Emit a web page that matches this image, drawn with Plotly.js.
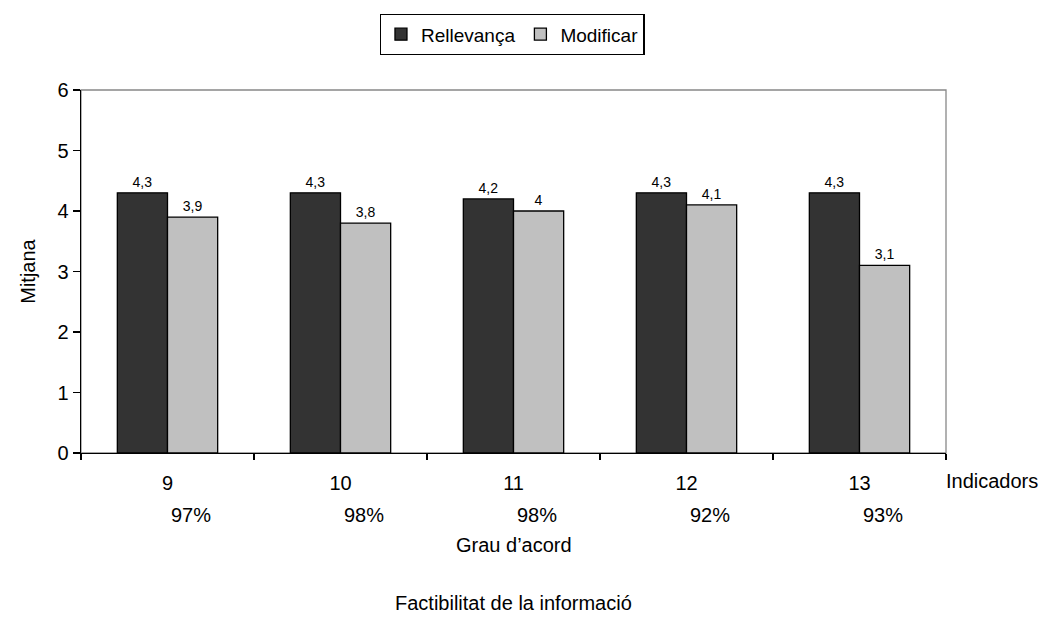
<!DOCTYPE html>
<html>
<head>
<meta charset="utf-8">
<script src="https://cdn.plot.ly/plotly-3.0.1.min.js"></script>
<style>html,body{margin:0;padding:0;background:#fff;}#chart{width:1041px;height:620px;}</style>
</head>
<body>
<div id="chart"></div>
<script>
var categories = ["9", "10", "11", "12", "13"];
var agreement = ["97%", "98%", "98%", "92%", "93%"];
var rellevanca = [4.3, 4.3, 4.2, 4.3, 4.3];
var modificar = [3.9, 3.8, 4, 4.1, 3.1];

var font = "Liberation Sans, Arial, sans-serif";
var fs = 20;

var traces = [
  {
    type: "bar", name: "Rellevança", x: categories, y: rellevanca,
    marker: {color: "#333333", line: {color: "#000000", width: 1.3}},
    texttemplate: "%{y}", textposition: "outside", cliponaxis: false,
    textfont: {family: font, size: 14, color: "#000"}
  },
  {
    type: "bar", name: "Modificar", x: categories, y: modificar,
    marker: {color: "#c0c0c0", line: {color: "#000000", width: 1.3}},
    texttemplate: "%{y}", textposition: "outside", cliponaxis: false,
    textfont: {family: font, size: 14, color: "#000"}
  }
];

var annotations = agreement.map(function (t, i) {
  return {
    text: t, x: i, xref: "x", y: 0, yref: "paper",
    xshift: 23, yshift: -75, showarrow: false,
    font: {family: font, size: fs, color: "#000"}
  };
});
annotations.push({text: "Grau d’acord", x: 0.5, xref: "paper", y: 0, yref: "paper",
  yshift: -105, showarrow: false, font: {family: font, size: fs, color: "#000"}});
annotations.push({text: "Factibilitat de la informació", x: 0.5, xref: "paper", y: 0, yref: "paper",
  yshift: -163, showarrow: false, font: {family: font, size: fs, color: "#000"}});
annotations.push({text: "Indicadors", x: 1, xref: "paper", xanchor: "left", xshift: -2, y: 0, yref: "paper",
  yshift: -41, showarrow: false, font: {family: font, size: fs, color: "#000"}});

var layout = {
  width: 1041, height: 620,
  margin: {l: 81, r: 95, t: 90, b: 167},
  paper_bgcolor: "#fff", plot_bgcolor: "#fff",
  separators: ",.",
  font: {family: font, size: fs, color: "#000"},
  barmode: "group", bargap: 0.42, bargroupgap: 0,
  showlegend: true,
  legend: {
    orientation: "h", x: 0.492, xanchor: "center", xref: "container",
    y: 1 - 14/620, yref: "container", yanchor: "top",
    bordercolor: "#000", borderwidth: 1.3, bgcolor: "#fff",
    font: {family: font, size: 19, color: "#000"},
    itemwidth: 30, tracegroupgap: 0, traceorder: "normal"
  },
  xaxis: {
    type: "category", range: [-0.5, 4.5], showgrid: false, zeroline: false,
    showline: true, linecolor: "#000", linewidth: 1.3,
    ticks: "outside", tickson: "boundaries", ticklen: 6, tickcolor: "#000", tickwidth: 1.3,
    ticklabelstandoff: 12,
    tickfont: {family: font, size: fs, color: "#000"}, fixedrange: true
  },
  yaxis: {
    range: [0, 6], dtick: 1, showgrid: false, zeroline: false,
    showline: true, linecolor: "#000", linewidth: 1.3,
    ticks: "outside", ticklen: 7, tickcolor: "#000", tickwidth: 1.3,
    tickfont: {family: font, size: fs, color: "#000"},
    title: {text: "Mitjana", font: {family: font, size: fs, color: "#000"}, standoff: 16}
  },
  shapes: [{
    type: "rect", xref: "paper", yref: "paper", x0: 0, x1: 1, y0: 0, y1: 1,
    line: {color: "#888888", width: 1.3}, layer: "below"
  }],
  annotations: annotations
};

Plotly.newPlot("chart", traces, layout, {displayModeBar: false, staticPlot: true});
</script>
</body>
</html>
